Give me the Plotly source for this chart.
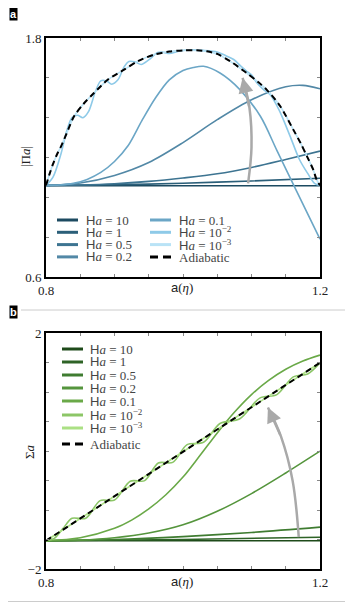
import plotly.graph_objects as go
from plotly.subplots import make_subplots

# ---- panel a: |Pi a| vs a(eta) ----
ha_labels = ["10", "1", "0.5", "0.2", "0.1", "10<sup>−2</sup>", "10<sup>−3</sup>"]

a_x_10 = [0.80, 1.20]
a_y_10 = [1.058, 1.058]
a_x_1 = [0.80, 0.90, 1.00, 1.10, 1.20]
a_y_1 = [1.06, 1.063, 1.071, 1.082, 1.096]
a_x_05 = [0.80, 0.85, 0.90, 0.95, 1.00, 1.05, 1.10, 1.15, 1.20]
a_y_05 = [1.06, 1.062, 1.068, 1.08, 1.097, 1.118, 1.15, 1.19, 1.232]
a_x_02 = [0.80, 0.85, 0.90, 0.95, 1.00, 1.05, 1.10, 1.15, 1.175, 1.20]
a_y_02 = [1.06, 1.072, 1.11, 1.175, 1.275, 1.39, 1.49, 1.555, 1.562, 1.545]
a_x_01 = [0.80, 0.82, 0.84, 0.86, 0.88, 0.90, 0.92, 0.94, 0.96, 0.98, 1.00, 1.015, 1.03,
          1.054, 1.083, 1.113, 1.137, 1.166, 1.20]
a_y_01 = [1.06, 1.062, 1.07, 1.09, 1.125, 1.18, 1.26, 1.385, 1.50, 1.59, 1.637, 1.652, 1.658,
          1.624, 1.541, 1.407, 1.236, 1.03, 0.79]
a_x_e2 = [0.800, 0.810, 0.822, 0.830, 0.838, 0.846, 0.854, 0.862, 0.872, 0.880, 0.888, 0.896, 0.905, 0.914,
          0.921, 0.930, 0.939, 0.950, 0.963, 0.972, 0.980, 0.995, 1.010, 1.030, 1.050, 1.062, 1.074, 1.084,
          1.093, 1.100, 1.108, 1.118, 1.127, 1.140, 1.156, 1.170, 1.182, 1.192, 1.200]
a_y_e2 = [1.06, 1.10, 1.22, 1.33, 1.40, 1.412, 1.40, 1.43, 1.53, 1.585, 1.585, 1.568, 1.59, 1.655,
          1.682, 1.68, 1.667, 1.69, 1.727, 1.728, 1.722, 1.735, 1.74, 1.738, 1.73, 1.712, 1.692, 1.66,
          1.633, 1.615, 1.574, 1.54, 1.516, 1.44, 1.31, 1.19, 1.12, 1.07, 1.06]
a_x_ad = [0.800, 0.805, 0.810, 0.816, 0.822, 0.830, 0.841, 0.855, 0.870, 0.890, 0.914, 0.935, 0.958, 0.980,
          1.000, 1.020, 1.035, 1.050, 1.069, 1.093, 1.110, 1.122, 1.142, 1.161, 1.172, 1.181, 1.190, 1.195, 1.200]
a_y_ad = [1.06, 1.115, 1.165, 1.215, 1.256, 1.32, 1.407, 1.47, 1.524, 1.59, 1.641, 1.685, 1.717, 1.732,
          1.738, 1.738, 1.733, 1.72, 1.683, 1.624, 1.578, 1.541, 1.457, 1.34, 1.27, 1.206, 1.14, 1.089, 1.06]
a_arrow_x = [1.095, 1.100, 1.097, 1.087]
a_arrow_y = [1.07, 1.25, 1.45, 1.60]

# ---- panel b: Sigma a vs a(eta) ----
b_x_10 = [0.80, 1.20]
b_y_10 = [-1.52, -1.52]
b_x_1 = [0.80, 1.00, 1.20]
b_y_1 = [-1.52, -1.50, -1.46]
b_x_05 = [0.80, 0.90, 1.00, 1.10, 1.20]
b_y_05 = [-1.52, -1.50, -1.45, -1.38, -1.29]
b_x_02 = [0.80, 0.85, 0.90, 0.95, 1.00, 1.05, 1.10, 1.15, 1.20]
b_y_02 = [-1.52, -1.51, -1.47, -1.39, -1.25, -1.02, -0.72, -0.37, 0.0]
b_x_01 = [0.80, 0.85, 0.90, 0.925, 0.95, 0.975, 1.0, 1.025, 1.05, 1.075, 1.10, 1.125, 1.15, 1.175, 1.20]
b_y_01 = [-1.52, -1.47, -1.31, -1.17, -0.98, -0.74, -0.44, -0.07, 0.31, 0.66, 0.96, 1.20, 1.39, 1.53, 1.63]
b_x_e2 = [0.800, 0.812, 0.825, 0.838, 0.858, 0.879, 0.900, 0.923, 0.944, 0.964, 0.985, 1.006, 1.030,
          1.054, 1.083, 1.112, 1.137, 1.161, 1.182, 1.200]
b_y_e2 = [-1.52, -1.48, -1.31, -1.14, -1.14, -0.84, -0.83, -0.51, -0.50, -0.20, -0.19, 0.11, 0.15,
          0.47, 0.55, 0.90, 0.96, 1.26, 1.31, 1.50]
b_x_ad = [0.80, 1.20]
b_y_ad = [-1.52, 1.50]
b_arrow_x = [1.169, 1.160, 1.143, 1.124]
b_arrow_y = [-1.46, -0.50, 0.25, 0.74]

blues = ["#1c4a61", "#2b5f79", "#3d7491", "#5288a6", "#6ba6c6", "#8ecae8", "#b9e3f6"]
greens = ["#1e4a1a", "#2e6326", "#3f7c31", "#55953d", "#6aa948", "#8cc667", "#abe084"]

SERIF = "Liberation Serif"

# page pixel -> paper coords (plot area spans x 46..320, y 38..569 on the page)
def PX(p):
    return (p - 46) / 274.0

def PY(p):
    return (569 - p) / 531.0

fig = make_subplots(rows=2, cols=1, vertical_spacing=0.1064)
fig.update_yaxes(domain=[PY(277), 1.0], row=1, col=1)
fig.update_yaxes(domain=[0.0, PY(333.3)], row=2, col=1)

a_series = [(a_x_10, a_y_10), (a_x_1, a_y_1), (a_x_05, a_y_05), (a_x_02, a_y_02),
            (a_x_01, a_y_01), (a_x_e2, a_y_e2), (a_x_ad, a_y_ad)]
b_series = [(b_x_10, b_y_10), (b_x_1, b_y_1), (b_x_05, b_y_05), (b_x_02, b_y_02),
            (b_x_01, b_y_01), (b_x_e2, b_y_e2), (b_x_ad, b_y_ad)]

def ha_name(lab):
    return "<span style='font-family:Liberation Sans'>H</span><i>a</i> = " + lab

# panel a traces (10^-3 lies under the adiabatic curve)
for i, (xs, ys) in enumerate(a_series):
    fig.add_trace(go.Scatter(x=xs, y=ys, mode="lines", line=dict(color=blues[i], width=1.6, shape="spline", smoothing=0.9),
                             name=ha_name(ha_labels[i]), showlegend=False), row=1, col=1)
fig.add_trace(go.Scatter(x=a_x_ad, y=a_y_ad, mode="lines", line=dict(color="black", width=2, dash="6px,4px", shape="spline", smoothing=0.8),
                         name="Adiabatic", showlegend=False), row=1, col=1)
fig.add_trace(go.Scatter(x=a_arrow_x, y=a_arrow_y, mode="lines", line=dict(color="#a9a9a9", width=2.5, shape="spline"),
                         showlegend=False, hoverinfo="skip"), row=1, col=1)

for i, (xs, ys) in enumerate(b_series):
    fig.add_trace(go.Scatter(x=xs, y=ys, mode="lines", line=dict(color=greens[i], width=1.6, shape="spline", smoothing=0.9),
                             name=ha_name(ha_labels[i]), showlegend=False), row=2, col=1)
fig.add_trace(go.Scatter(x=b_x_ad, y=b_y_ad, mode="lines", line=dict(color="black", width=2, dash="6px,4px"),
                         name="Adiabatic", showlegend=False), row=2, col=1)
fig.add_trace(go.Scatter(x=b_arrow_x, y=b_arrow_y, mode="lines", line=dict(color="#a9a9a9", width=2.5, shape="spline"),
                         showlegend=False, hoverinfo="skip"), row=2, col=1)

# arrow heads
for r, ax_, ay_ in [(1, a_arrow_x, a_arrow_y), (2, b_arrow_x, b_arrow_y)]:
    xr = "x" if r == 1 else "x2"
    yr = "y" if r == 1 else "y2"
    fig.add_annotation(x=ax_[-1], y=ay_[-1], ax=ax_[-2], ay=ay_[-2], xref=xr, yref=yr, axref=xr, ayref=yr,
                       showarrow=True, arrowhead=2, arrowsize=1.2, arrowwidth=2.5, arrowcolor="#a9a9a9", text="")

axis_common = dict(showgrid=False, zeroline=False, showline=True, linecolor="black", linewidth=2, mirror="allticks",
                   ticks="inside", ticklen=3, tickcolor="#888", tickwidth=1,
                   tickfont=dict(family=SERIF, size=13, color="#222"))
x_ticks = [0.8, 0.85, 0.9, 0.95, 1.0, 1.05, 1.1, 1.15, 1.2]
x_text = ["0.8", "", "", "", "", "", "", "", "1.2"]
fig.update_xaxes(range=[0.8, 1.2], tickvals=x_ticks, ticktext=x_text, **axis_common)
fig.update_yaxes(range=[0.6, 1.8], tickvals=[0.6, 0.8, 1.0, 1.2, 1.4, 1.6, 1.8],
                 ticktext=["0.6", "", "", "", "", "", "1.8"], row=1, col=1, **axis_common)
fig.update_yaxes(range=[-2, 2], tickvals=[-2, -1.5, -1, -0.5, 0, 0.5, 1, 1.5, 2],
                 ticktext=["−2", "", "", "", "", "", "", "", "2"], row=2, col=1, **axis_common)

# hand-drawn compact legends
leg_font = dict(family=SERIF, size=13, color="#444")
a_leg = [(57, 84, 220 + 12.3 * k, blues[k], ha_name(ha_labels[k]), None) for k in range(4)]
a_leg += [(150, 177, 220 + 12.3 * k, blues[4 + k], ha_name(ha_labels[4 + k]), None) for k in range(3)]
a_leg += [(150, 177, 257, "black", "Adiabatic", "8px,5px")]
b_rows = [349, 362, 375, 388, 401, 415, 428, 444]
b_leg = [(62, 88, b_rows[k], greens[k], ha_name(ha_labels[k]), None) for k in range(7)]
b_leg += [(62, 88, b_rows[7], "black", "Adiabatic", "8px,5px")]
for x0, xt, yy, col, lab, dash in a_leg + b_leg:
    fig.add_shape(type="line", xref="paper", yref="paper", x0=PX(x0), x1=PX(x0 + 21), y0=PY(yy), y1=PY(yy),
                  line=dict(color=col, width=3, dash=dash or "solid"))
    fig.add_annotation(x=PX(xt), y=PY(yy), xref="paper", yref="paper", text=lab, showarrow=False,
                       xanchor="left", yanchor="middle", font=leg_font)

ann_font = dict(family=SERIF, size=13, color="#222")
fig.add_annotation(x=PX(25), y=PY(157), xref="paper", yref="paper", text="|Π<i>a</i>|", textangle=-90,
                   showarrow=False, font=ann_font, xanchor="center", yanchor="middle")
fig.add_annotation(x=PX(29), y=PY(452), xref="paper", yref="paper", text="Σ<i>a</i>", textangle=-90,
                   showarrow=False, font=ann_font, xanchor="center", yanchor="middle")
for yy in [287, 581]:
    fig.add_annotation(x=PX(182), y=PY(yy), xref="paper", yref="paper",
                       text="<span style='font-family:Liberation Sans'>a</span>(<i>η</i>)",
                       showarrow=False, font=ann_font, xanchor="center", yanchor="middle")
for lab, xx, yy in [("a", 8.5, 14), ("b", 8.5, 312)]:
    fig.add_annotation(x=PX(xx), y=PY(yy), xref="paper", yref="paper", text="<b>" + lab + "</b>", showarrow=False,
                       xanchor="left", yanchor="middle",
                       font=dict(family="Liberation Sans", size=11, color="white"), bgcolor="black", borderpad=0)

fig.add_shape(type="line", xref="paper", yref="paper", x0=PX(21), x1=PX(353), y0=PY(310), y1=PY(310),
              line=dict(color="#cccccc", width=1))
fig.add_shape(type="line", xref="paper", yref="paper", x0=PX(0), x1=PX(353), y0=PY(601.5), y1=PY(601.5),
              line=dict(color="#cccccc", width=1))

# the page adds an 8px body margin, so the figure is 8px smaller than the window
fig.update_layout(width=345, height=596, margin=dict(l=38, r=33, t=30, b=35),
                  plot_bgcolor="white", paper_bgcolor="white", showlegend=False)

fig.write_html("out.html")
